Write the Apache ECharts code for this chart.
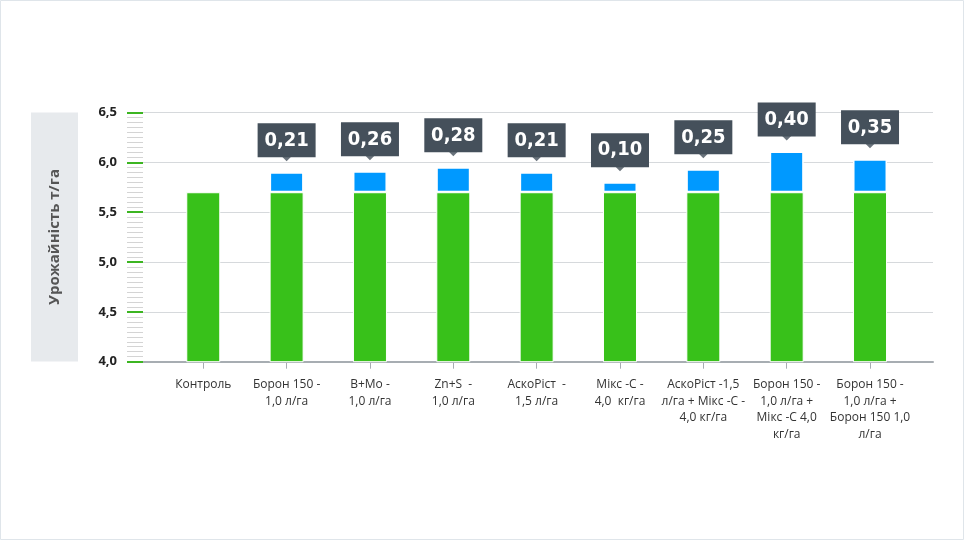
<!DOCTYPE html>
<html>
<head>
<meta charset="utf-8">
<script src="https://cdn.jsdelivr.net/npm/echarts@6/dist/echarts.min.js"></script>
<style>
html,body{margin:0;padding:0;background:#fff;}
#chart{width:964px;height:540px;}
</style>
</head>
<body>
<div id="chart"></div>
<script>
const categories = [
  'Контроль',
  'Борон 150 -\n1,0 л/га',
  'B+Mo -\n1,0 л/га',
  'Zn+S  -\n1,0 л/га',
  'АскоРіст  -\n1,5 л/га',
  'Мікс -С -\n4,0  кг/га',
  'АскоРіст -1,5\nл/га + Мікс -С -\n4,0 кг/га',
  'Борон 150 -\n1,0 л/га +\nМікс -С 4,0\nкг/га',
  'Борон 150 -\n1,0 л/га +\nБорон 150 1,0\nл/га'
];
const baseYield = [5.7, 5.7, 5.7, 5.7, 5.7, 5.7, 5.7, 5.7, 5.7];
const gain = [null, 0.20, 0.21, 0.25, 0.20, 0.10, 0.23, 0.41, 0.33];
const gainLabels = ['', '0,21', '0,26', '0,28', '0,21', '0,10', '0,25', '0,40', '0,35'];
const yTitle = 'Урожайність т/га';

const tops = gain.map((g, i) => g == null ? null : baseYield[i] + g);

const chart = echarts.init(document.getElementById('chart'));
const font = '"Open Sans", "Noto Sans", sans-serif';
chart.setOption({
  animation: false,
  graphic: [
    { type: 'rect', shape: { x: 0.5, y: 0.5, width: 963, height: 539 }, style: { fill: 'none', stroke: '#dfe5ea', lineWidth: 1 }, silent: true },
    { type: 'rect', shape: { x: 31, y: 112.5, width: 47, height: 249 }, style: { fill: '#e7eaed' }, silent: true },
    { type: 'text', x: 55, y: 237, rotation: Math.PI / 2,
      style: { text: yTitle, font: 'bold 15px ' + font, fill: '#555', textAlign: 'center', textVerticalAlign: 'middle' }, silent: true }
  ],
  grid: [
    { left: 143, right: 31, top: 112.5, bottom: 178.3 },
    { left: 161.6, right: 52.3, top: 112.5, bottom: 178.3 }
  ],
  xAxis: [
    { gridIndex: 0, type: 'value', min: 0, max: 1,
      axisLine: { show: true, lineStyle: { color: '#a7adb2', width: 2 } },
      axisTick: { show: false }, axisLabel: { show: false }, splitLine: { show: false } },
    { gridIndex: 1, type: 'category', data: categories,
      axisLine: { show: false },
      axisTick: { show: true, alignWithLabel: true, length: 7, lineStyle: { color: '#a7adb2', width: 1 } },
      axisLabel: { margin: 15, color: '#333', fontFamily: font, fontSize: 12, lineHeight: 16.5, interval: 0 } }
  ],
  yAxis: [
    { gridIndex: 0, type: 'value', min: 4, max: 6.5, interval: 0.5,
      axisLine: { show: false },
      axisTick: { show: true, length: 16, lineStyle: { color: '#3cb521', width: 2 } },
      minorTick: { show: true, splitNumber: 10, length: 16, lineStyle: { color: '#d4d4d4', width: 1 } },
      splitLine: { show: true, lineStyle: { color: '#d6d9dc', width: 1 } },
      axisLabel: { margin: 26, color: '#222', fontFamily: font, fontWeight: 'bold', fontSize: 13,
        formatter: v => v.toFixed(1).replace('.', ',') } },
    { gridIndex: 1, type: 'value', min: 4, max: 6.5, show: false, splitLine: { show: false } }
  ],
  series: [
    { type: 'bar', xAxisIndex: 1, yAxisIndex: 1, stack: 'y', data: baseYield, barWidth: 34,
      itemStyle: { color: '#38c11a', borderColor: '#ffffff', borderWidth: 1 } },
    { type: 'bar', xAxisIndex: 1, yAxisIndex: 1, stack: 'y', data: gain, barWidth: 34,
      itemStyle: { color: '#0099ff', borderColor: '#ffffff', borderWidth: 1.5 },
      label: { show: true, position: 'top', distance: 15,
        formatter: p => gainLabels[p.dataIndex],
        backgroundColor: '#45505b', color: '#fff', width: 58, height: 34, lineHeight: 34,
        align: 'center', verticalAlign: 'bottom', padding: 0,
        fontFamily: '"DejaVu Sans Condensed", "Liberation Sans Narrow", Roboto, sans-serif',
        fontWeight: 'bold', fontSize: 20 } },
    { type: 'scatter', xAxisIndex: 1, yAxisIndex: 1, data: tops, symbol: 'triangle', symbolRotate: 180,
      symbolSize: [10, 5], symbolOffset: [0, -13.5], itemStyle: { color: '#45505b' }, z: 5, silent: true }
  ]
});
</script>
</body>
</html>
